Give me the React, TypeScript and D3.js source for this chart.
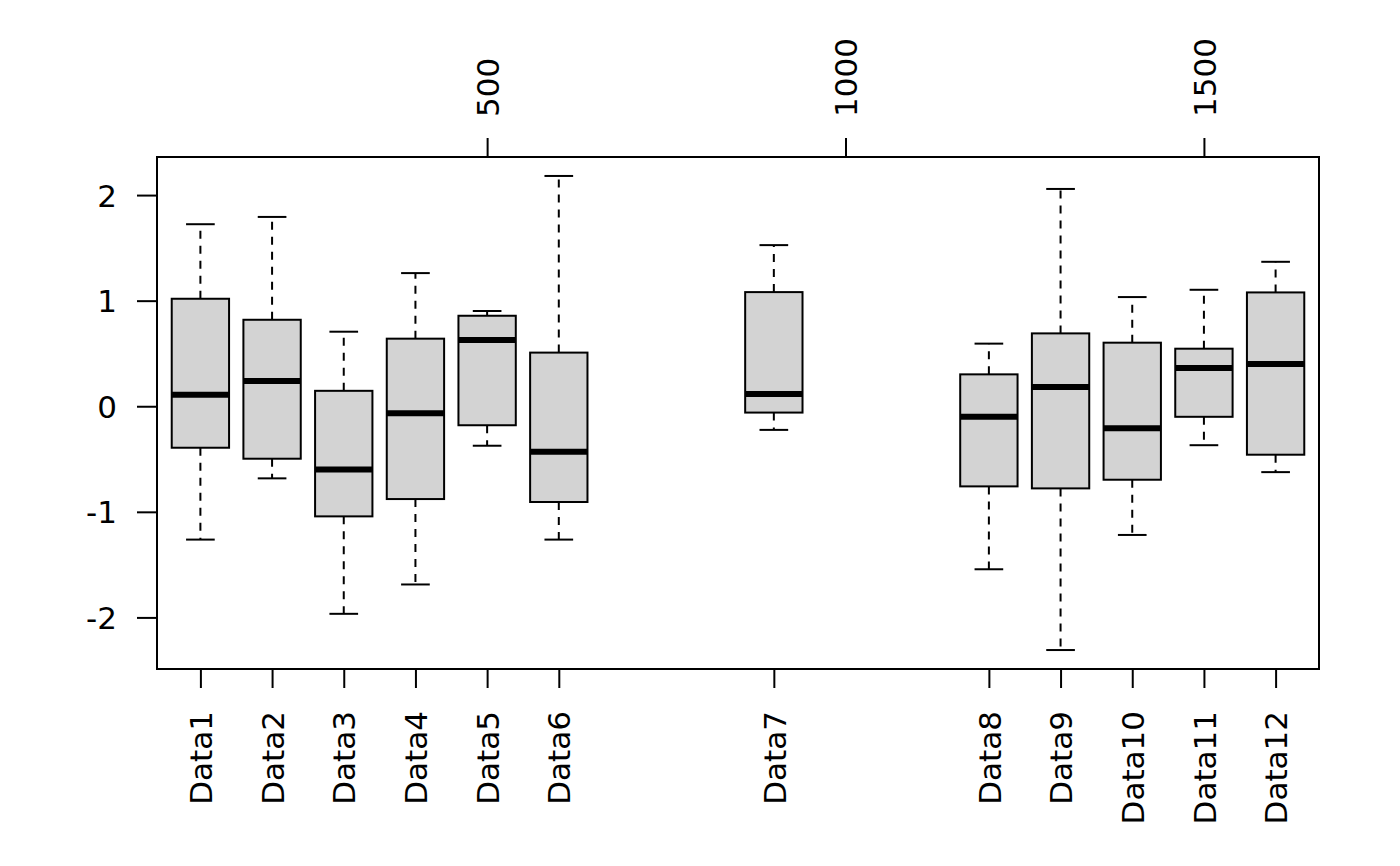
import React, { useEffect, useRef } from 'react';
import * as d3 from 'd3';

const labels = ['Data1', 'Data2', 'Data3', 'Data4', 'Data5', 'Data6', 'Data7', 'Data8', 'Data9', 'Data10', 'Data11', 'Data12'];
const positions = [100, 200, 300, 400, 500, 600, 900, 1200, 1300, 1400, 1500, 1600];
const lowerWhisker = [-1.263, -0.683, -1.966, -1.688, -0.374, -1.263, -0.224, -1.544, -2.309, -1.219, -0.369, -0.624];
const lowerQuartile = [-0.393, -0.497, -1.043, -0.879, -0.18, -0.907, -0.06, -0.759, -0.778, -0.696, -0.1, -0.459];
const medians = [0.108, 0.24, -0.598, -0.066, 0.628, -0.431, 0.117, -0.1, 0.183, -0.208, 0.363, 0.401];
const upperQuartile = [1.018, 0.819, 0.146, 0.64, 0.857, 0.508, 1.081, 0.302, 0.69, 0.602, 0.545, 1.078];
const upperWhisker = [1.724, 1.793, 0.706, 1.261, 0.902, 2.181, 1.526, 0.593, 2.058, 1.034, 1.103, 1.368];
const yTicks = [-2, -1, 0, 1, 2];
const topTicks = [500, 1000, 1500];

const boxWidth = 80;
const width = 1400;
const height = 866;
const margin = { top: 157, right: 81, bottom: 197, left: 157 };
const font = "'DejaVu Sans', sans-serif";
const fontSize = '31px';

export default function App() {
  const ref = useRef(null);

  useEffect(() => {
    const svg = d3.select(ref.current);
    svg.selectAll('*').remove();

    // domain like R's boxplot: range(at) +- 0.5, then 4% expansion
    const lo = d3.min(positions) - 0.5;
    const hi = d3.max(positions) + 0.5;
    const xPad = (hi - lo) * 0.04;
    const x = d3
      .scaleLinear()
      .domain([lo - xPad, hi + xPad])
      .range([margin.left, width - margin.right]);

    const yMin = d3.min(lowerWhisker);
    const yMax = d3.max(upperWhisker);
    const yPad = (yMax - yMin) * 0.04;
    const y = d3
      .scaleLinear()
      .domain([yMin - yPad, yMax + yPad])
      .range([height - margin.bottom, margin.top]);

    const boxes = positions.map((p, i) => ({
      p,
      min: lowerWhisker[i],
      q1: lowerQuartile[i],
      med: medians[i],
      q3: upperQuartile[i],
      max: upperWhisker[i],
    }));

    const g = svg.append('g');

    // whiskers
    g.selectAll('line.whisk-up')
      .data(boxes)
      .enter()
      .append('line')
      .attr('x1', d => x(d.p))
      .attr('x2', d => x(d.p))
      .attr('y1', d => y(d.q3))
      .attr('y2', d => y(d.max))
      .attr('stroke', 'black')
      .attr('stroke-width', 2)
      .attr('stroke-dasharray', '8,7');
    g.selectAll('line.whisk-down')
      .data(boxes)
      .enter()
      .append('line')
      .attr('x1', d => x(d.p))
      .attr('x2', d => x(d.p))
      .attr('y1', d => y(d.q1))
      .attr('y2', d => y(d.min))
      .attr('stroke', 'black')
      .attr('stroke-width', 2)
      .attr('stroke-dasharray', '8,7');

    // staples
    ['min', 'max'].forEach(k => {
      g.selectAll(`line.staple-${k}`)
        .data(boxes)
        .enter()
        .append('line')
        .attr('x1', d => x(d.p - boxWidth / 4))
        .attr('x2', d => x(d.p + boxWidth / 4))
        .attr('y1', d => y(d[k]))
        .attr('y2', d => y(d[k]))
        .attr('stroke', 'black')
        .attr('stroke-width', 2);
    });

    // boxes
    g.selectAll('rect.box')
      .data(boxes)
      .enter()
      .append('rect')
      .attr('x', d => x(d.p - boxWidth / 2))
      .attr('width', d => x(d.p + boxWidth / 2) - x(d.p - boxWidth / 2))
      .attr('y', d => y(d.q3))
      .attr('height', d => y(d.q1) - y(d.q3))
      .attr('fill', '#d3d3d3')
      .attr('stroke', 'black')
      .attr('stroke-width', 2);

    // medians
    g.selectAll('line.median')
      .data(boxes)
      .enter()
      .append('line')
      .attr('x1', d => x(d.p - boxWidth / 2))
      .attr('x2', d => x(d.p + boxWidth / 2))
      .attr('y1', d => y(d.med))
      .attr('y2', d => y(d.med))
      .attr('stroke', 'black')
      .attr('stroke-width', 6);

    // frame
    svg
      .append('rect')
      .attr('x', margin.left)
      .attr('y', margin.top)
      .attr('width', width - margin.left - margin.right)
      .attr('height', height - margin.top - margin.bottom)
      .attr('fill', 'none')
      .attr('stroke', 'black')
      .attr('stroke-width', 2);

    const styleAxis = sel => {
      sel.select('.domain').remove();
      sel.selectAll('line').attr('stroke', 'black').attr('stroke-width', 2);
      sel.selectAll('text').attr('fill', 'black').style('font-family', font).style('font-size', fontSize);
    };

    // left axis
    const left = svg
      .append('g')
      .attr('transform', `translate(${margin.left},0)`)
      .call(d3.axisLeft(y).tickValues(yTicks).tickSize(20).tickPadding(20).tickFormat(d => String(d)));
    styleAxis(left);
    left.selectAll('text').attr('dy', '0.36em');

    // bottom axis
    const bottom = svg
      .append('g')
      .attr('transform', `translate(0,${height - margin.bottom})`)
      .call(d3.axisBottom(x).tickValues(positions).tickSize(19).tickFormat((d, i) => labels[i]));
    styleAxis(bottom);
    bottom
      .selectAll('text')
      .attr('transform', 'rotate(-90)')
      .attr('x', -42)
      .attr('y', 0)
      .attr('dy', '0.36em')
      .attr('text-anchor', 'end');

    // top axis
    const top = svg
      .append('g')
      .attr('transform', `translate(0,${margin.top})`)
      .call(d3.axisTop(x).tickValues(topTicks).tickSize(19).tickFormat(d => String(d)));
    styleAxis(top);
    top
      .selectAll('text')
      .attr('transform', 'rotate(-90)')
      .attr('x', 40)
      .attr('y', 0)
      .attr('dy', '0.36em')
      .attr('text-anchor', 'start');
  }, []);

  return (
    <svg
      ref={ref}
      width={width}
      height={height}
      style={{ position: 'absolute', left: 0, top: 0, background: 'white' }}
    />
  );
}
